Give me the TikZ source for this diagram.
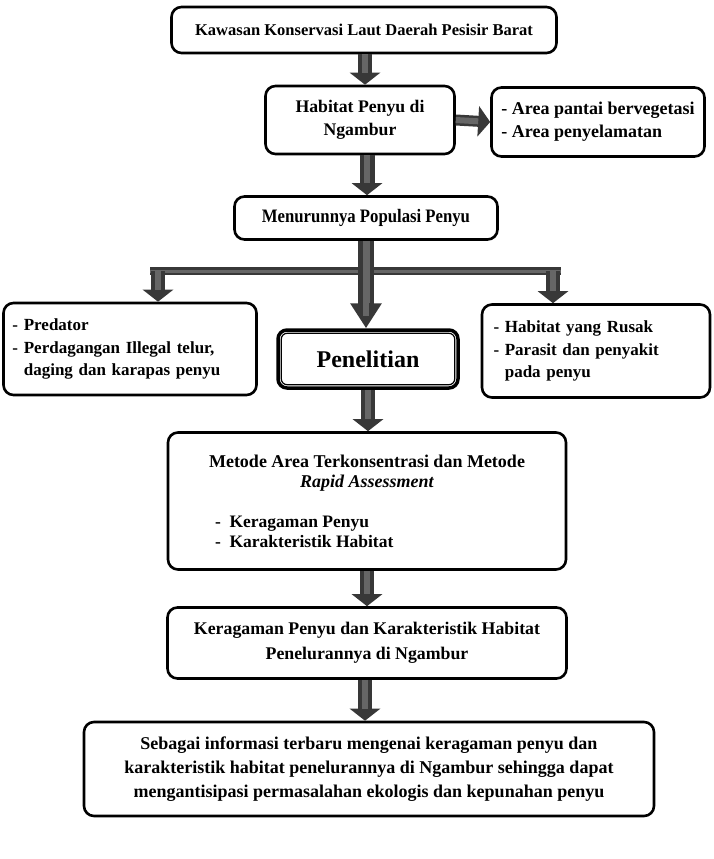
\documentclass[tikz,border=0pt]{standalone}
\usepackage{fontspec}
\setmainfont{Liberation Serif}
\newfontfamily\narrowfont{Liberation Serif}[FakeStretch=0.88]
\usetikzlibrary{arrows.meta,positioning}

\tikzset{
  box/.style={draw, line width=2.6pt, rounded corners=10pt, fill=white,
    align=center, font=\bfseries\fontsize{16.5}{20}\selectfont, inner sep=4pt},
  listbox/.style={box, align=left},
  fat/.style={line width=14pt, draw=black!78, line cap=butt,
    -{Triangle[width=30pt,length=12pt]},
    postaction={draw=black!60, line width=6pt, -, shorten >=12pt}},
  fatbig/.style={fat, line width=16pt,
    -{Triangle[width=30pt,length=25pt]},
    postaction={draw=black!60, line width=7pt, -, shorten >=25pt}},
  bar/.style={line width=8pt, draw=black!78,
    postaction={draw=black!60, line width=3pt}},
}

\begin{document}
\begin{tikzpicture}[x=1pt,y=-1pt]
  \useasboundingbox (0,0) rectangle (713,859);

  % boxes
  \node[box, minimum width=385pt, minimum height=46pt] (kawasan) at (364,30)
    {Kawasan Konservasi Laut Daerah Pesisir Barat};
  \node[box, minimum width=189pt, minimum height=68pt, font=\bfseries\fontsize{17.7}{23}\selectfont] (habitat) at (360,120)
    {Habitat Penyu di\\Ngambur};
  \node[listbox, minimum width=213pt, minimum height=69pt, font=\bfseries\fontsize{18}{23}\selectfont] (area) at (598,122)
    {- Area pantai bervegetasi\\- Area penyelamatan};
  \node[box, minimum width=263pt, minimum height=43pt, font=\bfseries\narrowfont\fontsize{19}{22}\selectfont] (turun) at (366,218)
    {Menurunnya Populasi Penyu};
  \node[listbox, minimum width=253pt, minimum height=92pt, text width=235pt, font=\bfseries\fontsize{17}{22.5}\selectfont] (ancaman) at (130,349)
    {- Predator\\- Perdagangan Illegal telur,\\\phantom{- }daging dan karapas penyu};
  \node[listbox, minimum width=228pt, minimum height=93pt, text width=205pt, font=\bfseries\fontsize{17}{22.5}\selectfont] (rusak) at (596,351)
    {- Habitat yang Rusak\\- Parasit dan penyakit\\\phantom{- }pada penyu};
  \node[box, minimum width=180pt, minimum height=58pt, line width=3.5pt, rounded corners=9pt, font=\bfseries\fontsize{24}{28}\selectfont] (teliti) at (368,359)
    {Penelitian};
  \draw[line width=1.2pt, rounded corners=6pt]
    ([shift={(5pt,5pt)}]teliti.south west) rectangle ([shift={(-5pt,-5pt)}]teliti.north east);
  \node[box, minimum width=398pt, minimum height=137pt, font=\bfseries\fontsize{18}{20}\selectfont] (metode) at (367,501)
    {Metode Area Terkonsentrasi dan Metode\\\textit{Rapid Assessment}\\[20pt]
     {\fontsize{17.5}{21}\selectfont\makebox[304pt][l]{-\ \ Keragaman Penyu}}\\
     {\fontsize{17.5}{21}\selectfont\makebox[304pt][l]{-\ \ Karakteristik Habitat}}};
  \node[box, minimum width=399pt, minimum height=71pt, font=\bfseries\fontsize{17.8}{25}\selectfont] (hasil) at (367,643)
    {Keragaman Penyu dan Karakteristik Habitat\\Penelurannya di Ngambur};
  \node[box, minimum width=570pt, minimum height=94pt, font=\bfseries\fontsize{18}{24}\selectfont] (manfaat) at (369,769)
    {Sebagai informasi terbaru mengenai keragaman penyu dan\\
     karakteristik habitat penelurannya di Ngambur sehingga dapat\\
     mengantisipasi permasalahan ekologis dan kepunahan penyu};

  % connectors
  \coordinate (barL) at (158,271);
  \coordinate (barR) at (553,271);
  \draw[bar] ([xshift=-8pt]barL) -- ([xshift=8pt]barR);
  \draw[fat] (barL) -- (barL |- ancaman.north);
  \draw[fat] (barR) -- (barR |- rusak.north);
  \draw[fat] ([xshift=1pt]kawasan.south) -- ([xshift=5pt]habitat.north);
  \draw[fat, line width=11pt] (habitat.east) -- (area.west);
  \draw[fat, line width=15pt] ([xshift=7pt]habitat.south) -- ([xshift=7pt]habitat.south |- turun.north);
  \draw[fatbig] (turun.south) -- (turun.south |- teliti.north);
  \draw[fat] (teliti.south) -- (teliti.south |- metode.north);
  \draw[fat] (metode.south) -- (hasil.north);
  \draw[fat] ([xshift=-2pt]hasil.south) -- ([xshift=-2pt]hasil.south |- manfaat.north);
\end{tikzpicture}
\end{document}
